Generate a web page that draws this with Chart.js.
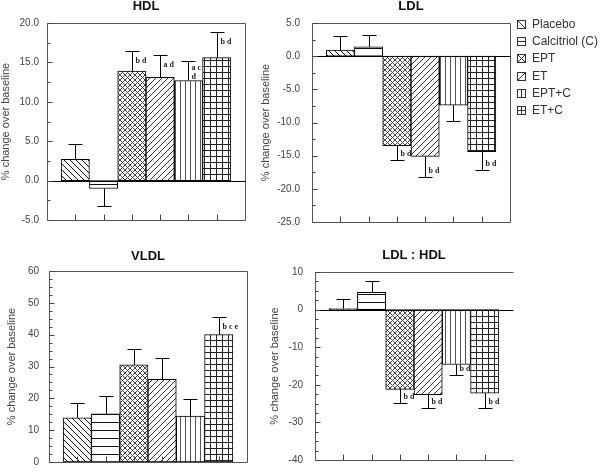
<!DOCTYPE html>
<html>
<head>
<meta charset="utf-8">
<script src="https://cdn.jsdelivr.net/npm/chart.js@4.4.1/dist/chart.umd.min.js"></script>
<style>
  html, body { margin: 0; padding: 0; background: #fff; }
  #wrap { position: relative; width: 600px; height: 476px; overflow: hidden; background: #fff; }
  #wrap canvas { position: absolute; }
</style>
</head>
<body>
<div id="wrap">
  <canvas id="hdl" width="260" height="238" style="left:0;top:0"></canvas>
  <canvas id="ldl" width="340" height="238" style="left:260px;top:0"></canvas>
  <canvas id="vldl" width="260" height="238" style="left:0;top:238px"></canvas>
  <canvas id="ratio" width="340" height="238" style="left:260px;top:238px"></canvas>
</div>
<script>
// groups, in bar order
const groups = ["Placebo", "Calcitriol (C)", "EPT", "ET", "EPT+C", "ET+C"];
const positions = [0, 1, 2, 3, 4, 5];

// % change over baseline, and SE (error bar drawn away from zero)
const hdlValues = [2.7, -1.0, 13.9, 13.1, 12.7, 15.6];
const hdlErrors = [1.9, 2.2, 2.5, 2.9, 2.5, 3.2];
const hdlMarks = ["", "", "b d", "a d", "a c\nd", "b d"];
const hdlTicks = [-5, 0, 5, 10, 15, 20];

const ldlValues = [0.9, 1.4, -13.5, -15.1, -7.4, -14.4];
const ldlErrors = [2.1, 1.8, 2.1, 3.1, 2.4, 2.7];
const ldlMarks = ["", "", "b d", "b d", "", "b d"];
const ldlTicks = [-25, -20, -15, -10, -5, 0, 5];

const vldlValues = [13.9, 15.1, 30.5, 26.0, 14.4, 40.0];
const vldlErrors = [4.7, 5.5, 5.1, 6.6, 5.4, 5.7];
const vldlMarks = ["", "", "", "", "", "b c e"];
const vldlTicks = [0, 10, 20, 30, 40, 50, 60];

const ratioValues = [0.3, 4.6, -21.2, -22.6, -14.6, -22.2];
const ratioErrors = [2.5, 2.9, 3.6, 3.5, 2.8, 3.9];
const ratioMarks = ["", "", "b d", "b d", "b d", "b d"];
const ratioTicks = [-40, -30, -20, -10, 0, 10];

Chart.defaults.font.family = "'Liberation Sans', Arial, sans-serif";

// black-on-white hatch fills, one per group
function makePattern(kind) {
  const sizes = { back: 6, horiz: 8, cross: 5, fwd: 6, vert: 5, grid: 6 };
  const inks = { back: "#111", horiz: "#111", cross: "#444", fwd: "#333", vert: "#555", grid: "#222" };
  const s = sizes[kind];
  const c = document.createElement("canvas");
  c.width = s; c.height = s;
  const g = c.getContext("2d");
  g.fillStyle = "#fff";
  g.fillRect(0, 0, s, s);
  g.lineWidth = 1;
  g.strokeStyle = inks[kind];
  g.beginPath();
  if (kind === "back" || kind === "cross") {
    g.moveTo(-1, -1); g.lineTo(s + 1, s + 1);
    g.moveTo(-1, s - 1); g.lineTo(1, s + 1);
    g.moveTo(s - 1, -1); g.lineTo(s + 1, 1);
  }
  if (kind === "fwd" || kind === "cross") {
    g.moveTo(-1, s + 1); g.lineTo(s + 1, -1);
    g.moveTo(-1, 1); g.lineTo(1, -1);
    g.moveTo(s - 1, s + 1); g.lineTo(s + 1, s - 1);
  }
  if (kind === "horiz" || kind === "grid") {
    g.moveTo(0, 0.5); g.lineTo(s, 0.5);
  }
  if (kind === "vert" || kind === "grid") {
    g.moveTo(0.5, 0); g.lineTo(0.5, s);
  }
  g.stroke();
  return g.createPattern(c, "repeat");
}
const patternKinds = ["back", "horiz", "cross", "fwd", "vert", "grid"];

function near(a, b) { return Math.abs(a - b) < 1e-6; }

// frame, zero line, inward ticks, error bars, significance letters, legend
const panelDecor = {
  id: "panelDecor",
  afterDatasetsDraw(chart, args, opts) {
    const ctx = chart.ctx;
    const a = chart.chartArea;
    const x = chart.scales.x, y = chart.scales.y;
    const L = Math.round(a.left) + 0.5, R = Math.round(a.right) + 0.5;
    const T = Math.round(a.top) + 0.5, B = Math.round(a.bottom) + 0.5;
    ctx.save();
    ctx.lineWidth = 1;

    ctx.strokeStyle = "#555";
    ctx.beginPath();
    ctx.moveTo(L, T); ctx.lineTo(R, T);
    if (opts.rightBorder) ctx.lineTo(R, B);
    ctx.moveTo(L, T); ctx.lineTo(L, B); ctx.lineTo(R, B);
    ctx.stroke();

    ctx.strokeStyle = "#000";
    if (y.min < 0) {
      const z = Math.round(y.getPixelForValue(0)) + 0.5;
      ctx.beginPath(); ctx.moveTo(L, z); ctx.lineTo(R, z); ctx.stroke();
    }

    ctx.strokeStyle = "#444";
    ctx.beginPath();
    for (let v = y.min; v <= y.max + 1e-6; v += opts.minor) {
      const p = Math.round(y.getPixelForValue(v)) + 0.5;
      const major = opts.ticks.some(t => near(t, v));
      ctx.moveTo(L, p); ctx.lineTo(L + (major ? 5 : 3), p);
    }
    positions.forEach(pos => {
      const px = Math.round(x.getPixelForValue(pos)) + 0.5;
      ctx.moveTo(px, B); ctx.lineTo(px, B - 6);
    });
    ctx.stroke();

    ctx.strokeStyle = "#000";
    ctx.fillStyle = "#222";
    ctx.font = "bold 8px 'Liberation Serif', serif";
    ctx.textAlign = "left";
    ctx.textBaseline = "middle";
    opts.values.forEach((v, i) => {
      const end = v >= 0 ? v + opts.errors[i] : v - opts.errors[i];
      const px = Math.round(x.getPixelForValue(positions[i])) + 0.5;
      const y0 = y.getPixelForValue(v), y1 = Math.round(y.getPixelForValue(end)) + 0.5;
      ctx.beginPath();
      ctx.moveTo(px, y0); ctx.lineTo(px, y1);
      ctx.moveTo(px - 7, y1); ctx.lineTo(px + 7, y1);
      ctx.stroke();
      const lines = opts.marks[i] ? opts.marks[i].split("\n") : [];
      const first = lines.length > 1 ? 6 : 9;
      lines.forEach((txt, k) => {
        const ty = v >= 0 ? y1 + first + k * 9 : y1 - 7 - (lines.length - 1 - k) * 9;
        ctx.fillText(txt, px + 3, ty);
      });
    });
    ctx.restore();
  },
  afterDraw(chart, args, opts) {
    if (!opts.legend) return;
    const ctx = chart.ctx;
    ctx.save();
    ctx.lineWidth = 1;
    ctx.strokeStyle = "#333";
    ctx.fillStyle = "#333";
    ctx.font = "12px 'Liberation Sans', Arial, sans-serif";
    ctx.textBaseline = "middle";
    groups.forEach((name, i) => {
      const yc = Math.round(25 + i * 17.2);
      const bx = 257.5, by = yc - 4.5, s = 8;
      ctx.strokeRect(bx, by, s, s);
      ctx.beginPath();
      const k = patternKinds[i];
      if (k === "back" || k === "cross") { ctx.moveTo(bx, by); ctx.lineTo(bx + s, by + s); }
      if (k === "fwd" || k === "cross") { ctx.moveTo(bx, by + s); ctx.lineTo(bx + s, by); }
      if (k === "horiz" || k === "grid") { ctx.moveTo(bx, by + 4); ctx.lineTo(bx + s, by + 4); }
      if (k === "vert" || k === "grid") { ctx.moveTo(bx + 4, by); ctx.lineTo(bx + 4, by + s); }
      ctx.stroke();
      ctx.fillText(name, 272, yc);
    });
    ctx.restore();
  }
};

function makeChart(id, cfg) {
  const canvas = document.getElementById(id);
  const box = cfg.box;
  return new Chart(canvas.getContext("2d"), {
    type: "bar",
    data: {
      datasets: [{
        data: cfg.values.map((v, i) => ({ x: positions[i], y: v })),
        backgroundColor: patternKinds.map(makePattern),
        borderColor: "#000",
        borderWidth: 1,
        borderSkipped: false,
        barPercentage: 1,
        categoryPercentage: 1,
      }],
    },
    options: {
      responsive: false,
      animation: false,
      layout: { padding: { left: 0, top: 0, right: canvas.width - box.right, bottom: canvas.height - box.bottom } },
      plugins: {
        legend: { display: false },
        tooltip: { enabled: false },
        title: {
          display: true,
          text: cfg.title,
          fullSize: false,
          color: "#111",
          font: { size: 13, weight: "bold", lineHeight: 1 },
          padding: { top: cfg.titleTop, bottom: box.top - cfg.titleTop - 13 },
        },
        panelDecor: {
          values: cfg.values, errors: cfg.errors, marks: cfg.marks,
          ticks: cfg.ticks, minor: cfg.minor,
          rightBorder: cfg.rightBorder, legend: cfg.legend,
        },
      },
      scales: {
        x: { type: "linear", min: -1, max: 6, offset: false, display: false },
        y: {
          min: cfg.ticks[0],
          max: cfg.ticks[cfg.ticks.length - 1],
          afterBuildTicks: s => { s.ticks = cfg.ticks.map(v => ({ value: v })); },
          afterFit: s => { s.width = box.left; },
          grid: { display: false, drawTicks: false },
          border: { display: false },
          ticks: {
            padding: cfg.tickPad,
            color: "#444",
            font: { size: 10, lineHeight: 0.8 },
            callback: v => v.toFixed(cfg.decimals),
          },
          title: {
            display: true,
            text: "% change over baseline",
            color: "#444",
            font: { size: 11, lineHeight: 1 },
            padding: { top: cfg.yTitlePad, bottom: 0 },
          },
        },
      },
    },
    plugins: [panelDecor],
  });
}

makeChart("hdl", {
  title: "HDL", values: hdlValues, errors: hdlErrors, marks: hdlMarks, ticks: hdlTicks,
  decimals: 1, minor: 2.5, box: { left: 47, right: 245, top: 23, bottom: 220 },
  titleTop: 0, tickPad: 8, yTitlePad: 0, rightBorder: true,
});
makeChart("ldl", {
  title: "LDL", values: ldlValues, errors: ldlErrors, marks: ldlMarks, ticks: ldlTicks,
  decimals: 1, minor: 2.5, box: { left: 52, right: 250, top: 23, bottom: 222 },
  titleTop: 0, tickPad: 12, yTitlePad: 0, rightBorder: true, legend: true,
});
makeChart("vldl", {
  title: "VLDL", values: vldlValues, errors: vldlErrors, marks: vldlMarks, ticks: vldlTicks,
  decimals: 0, minor: 2.5, box: { left: 49, right: 247, top: 33, bottom: 234 },
  titleTop: 12, tickPad: 10, yTitlePad: 6, rightBorder: true,
});
makeChart("ratio", {
  title: "LDL : HDL", values: ratioValues, errors: ratioErrors, marks: ratioMarks, ticks: ratioTicks,
  decimals: 0, minor: 2.5, box: { left: 55, right: 253, top: 34, bottom: 233 },
  titleTop: 11, tickPad: 12, yTitlePad: 9, rightBorder: false,
});
</script>
</body>
</html>
